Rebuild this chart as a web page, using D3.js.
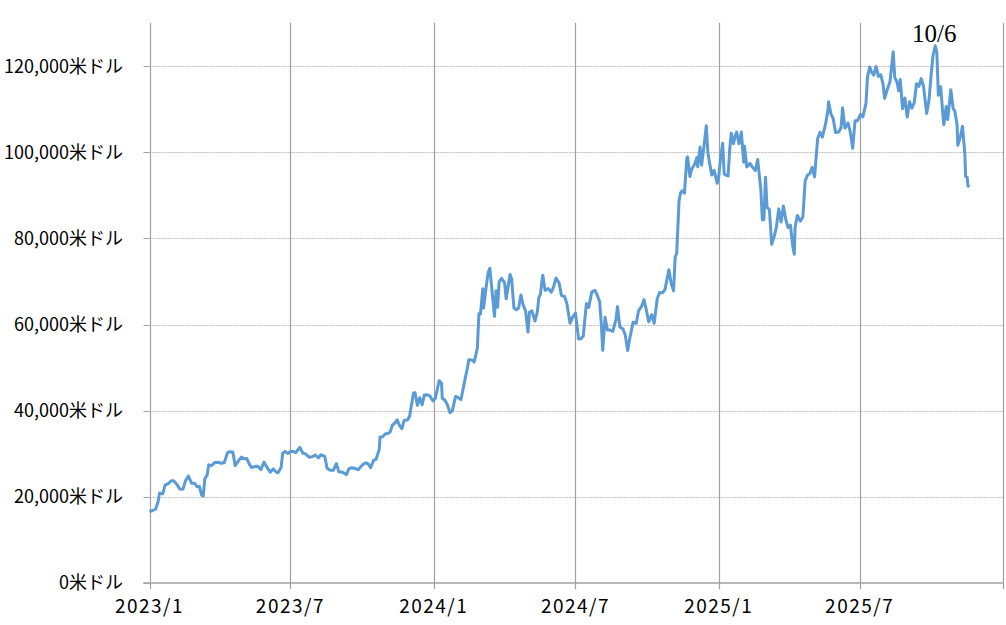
<!DOCTYPE html>
<meta charset="utf-8">
<style>
    body { margin: 0; background: #fff; }
    .ylabel { font: 18px "Noto Sans CJK JP", sans-serif; text-anchor: end; fill: #000; }
    .xlabel { font: 19px "Noto Sans CJK JP", sans-serif; text-anchor: middle; letter-spacing: 1.5px; fill: #000; }
    .note { font: 25px "Liberation Serif", serif; fill: #000; }
</style>
<svg width="1006" height="625"></svg>
<script src="https://d3js.org/d3.v7.min.js"></script>
<script>

    var dates = [
        "2023-01-01","2023-01-05","2023-01-09","2023-01-12","2023-01-14","2023-01-18","2023-01-21","2023-01-25","2023-01-29",
        "2023-02-01","2023-02-05","2023-02-09","2023-02-13","2023-02-16","2023-02-20","2023-02-24","2023-02-28",
        "2023-03-03","2023-03-06","2023-03-09","2023-03-11","2023-03-13","2023-03-16","2023-03-18","2023-03-22","2023-03-26","2023-03-30",
        "2023-04-03","2023-04-07","2023-04-11","2023-04-14","2023-04-18","2023-04-21","2023-04-25","2023-04-29",
        "2023-05-03","2023-05-06","2023-05-09","2023-05-12","2023-05-16","2023-05-20","2023-05-24","2023-05-28",
        "2023-06-01","2023-06-05","2023-06-09","2023-06-12","2023-06-15","2023-06-19","2023-06-21","2023-06-24","2023-06-28",
        "2023-07-01","2023-07-05","2023-07-08","2023-07-13","2023-07-17","2023-07-21","2023-07-25","2023-07-29",
        "2023-08-02","2023-08-06","2023-08-09","2023-08-14","2023-08-17","2023-08-21","2023-08-25","2023-08-29",
        "2023-09-01","2023-09-05","2023-09-11","2023-09-14","2023-09-18","2023-09-22","2023-09-26","2023-09-29",
        "2023-10-02","2023-10-06","2023-10-09","2023-10-12","2023-10-16","2023-10-19","2023-10-23","2023-10-24","2023-10-27","2023-10-31",
        "2023-11-03","2023-11-06","2023-11-09","2023-11-12","2023-11-15","2023-11-18","2023-11-21","2023-11-24","2023-11-28",
        "2023-12-01","2023-12-04","2023-12-06","2023-12-08","2023-12-11","2023-12-14","2023-12-17","2023-12-20","2023-12-23","2023-12-27","2023-12-31",
        "2024-01-03","2024-01-08","2024-01-11","2024-01-12","2024-01-15","2024-01-18","2024-01-22","2024-01-25","2024-01-29",
        "2024-02-01","2024-02-05","2024-02-08","2024-02-10","2024-02-13","2024-02-15","2024-02-19","2024-02-22","2024-02-26","2024-02-28",
        "2024-03-01","2024-03-04","2024-03-05","2024-03-08","2024-03-11","2024-03-13","2024-03-15","2024-03-19","2024-03-21","2024-03-23","2024-03-25","2024-03-28",
        "2024-04-01","2024-04-03","2024-04-08","2024-04-10","2024-04-13","2024-04-16","2024-04-19","2024-04-22","2024-04-25","2024-04-28",
        "2024-05-01","2024-05-03","2024-05-06","2024-05-10","2024-05-13","2024-05-15","2024-05-17","2024-05-20","2024-05-23","2024-05-27","2024-05-31",
        "2024-06-03","2024-06-06","2024-06-10","2024-06-13","2024-06-17","2024-06-20","2024-06-24","2024-06-27",
        "2024-07-01","2024-07-05","2024-07-08","2024-07-11","2024-07-15","2024-07-18","2024-07-22","2024-07-26","2024-07-29",
        "2024-08-01","2024-08-03","2024-08-05","2024-08-08","2024-08-11","2024-08-14","2024-08-18","2024-08-22","2024-08-24","2024-08-27","2024-08-31",
        "2024-09-03","2024-09-06","2024-09-09","2024-09-13","2024-09-17","2024-09-20","2024-09-24","2024-09-27","2024-09-30",
        "2024-10-03","2024-10-07","2024-10-10","2024-10-14","2024-10-17","2024-10-21","2024-10-24","2024-10-29",
        "2024-11-01","2024-11-04","2024-11-06","2024-11-08","2024-11-11","2024-11-13","2024-11-15","2024-11-18","2024-11-21","2024-11-22","2024-11-25","2024-11-27",
        "2024-12-01","2024-12-04","2024-12-05","2024-12-08","2024-12-10","2024-12-13","2024-12-16","2024-12-18","2024-12-20","2024-12-23","2024-12-26","2024-12-30",
        "2025-01-01","2025-01-03","2025-01-06","2025-01-08","2025-01-10","2025-01-13","2025-01-15","2025-01-17","2025-01-20","2025-01-22","2025-01-24","2025-01-27","2025-01-30",
        "2025-02-02","2025-02-03","2025-02-06","2025-02-10","2025-02-13","2025-02-17","2025-02-20","2025-02-24","2025-02-26","2025-02-28",
        "2025-03-02","2025-03-04","2025-03-07","2025-03-10","2025-03-13","2025-03-16","2025-03-19","2025-03-22","2025-03-25","2025-03-28","2025-03-31",
        "2025-04-03","2025-04-06","2025-04-08","2025-04-09","2025-04-12","2025-04-16","2025-04-19","2025-04-22","2025-04-25","2025-04-28",
        "2025-05-01","2025-05-04","2025-05-08","2025-05-11","2025-05-14","2025-05-18","2025-05-21","2025-05-22","2025-05-25","2025-05-28","2025-05-31",
        "2025-06-04","2025-06-07","2025-06-09","2025-06-12","2025-06-16","2025-06-19","2025-06-22","2025-06-25","2025-06-28",
        "2025-07-02","2025-07-05","2025-07-09","2025-07-11","2025-07-14","2025-07-16","2025-07-19","2025-07-22","2025-07-25","2025-07-28","2025-07-31",
        "2025-08-02","2025-08-06","2025-08-09","2025-08-13","2025-08-15","2025-08-18","2025-08-20","2025-08-22","2025-08-25","2025-08-28","2025-08-31",
        "2025-09-03","2025-09-06","2025-09-09","2025-09-12","2025-09-15","2025-09-18","2025-09-21","2025-09-25","2025-09-28",
        "2025-10-01","2025-10-03","2025-10-06","2025-10-08","2025-10-10","2025-10-13","2025-10-16","2025-10-17","2025-10-20","2025-10-22","2025-10-26","2025-10-29","2025-10-31",
        "2025-11-03","2025-11-04","2025-11-07","2025-11-10","2025-11-13","2025-11-14","2025-11-16","2025-11-17","2025-11-19"
    ];

    var prices = [
        16550,16830,17180,18850,20880,20680,22720,23060,23740,
        23730,22940,21800,21790,23650,24830,23180,23150,
        22350,22430,20370,20190,24200,25050,27420,27270,27990,28030,
        27790,27930,30210,30490,30390,27260,28310,29230,
        28840,28900,27640,26800,27030,27120,26330,28060,
        26820,25730,26480,25850,25580,26840,30080,30530,30070,
        30590,30510,30290,31470,30140,29900,29180,29330,
        29700,29060,29770,29410,26660,26190,26160,27710,
        25840,25790,25160,26530,26760,26580,26300,26910,
        27500,27930,27600,26760,28520,28720,30990,33900,33900,34660,
        34730,35050,36700,37060,37880,36580,35810,37720,37820,
        38690,41980,44100,44180,41240,43020,41370,43650,43720,43440,42270,
        42850,46970,46340,42850,42510,41620,39510,40080,43300,
        43080,42580,45300,47130,49700,51810,51780,51300,54520,62500,
        62430,68330,63800,68300,72120,73080,69460,61910,67840,64040,69960,70740,
        69710,65980,71630,70600,63820,63430,63820,66840,64480,63110,
        58250,62890,63160,60790,62930,66270,67050,71450,67930,68370,67500,
        68800,70800,69650,66750,66500,64850,60280,61610,
        62680,56660,56700,57340,64860,63980,67600,67900,66800,
        65350,60700,54020,61700,58710,58740,58430,61170,64160,59420,58970,
        57500,53950,57020,60540,60310,63200,64260,65790,63330,
        60630,62290,60300,66000,67420,67400,68170,72740,
        69480,67810,75640,76500,88700,90580,91060,90510,98700,98920,94340,96000,
        97200,98770,96600,101200,97000,101400,106140,100000,97750,94700,95800,92800,
        94400,98100,102080,95000,94700,94500,100500,104400,102000,103700,104700,102000,104700,
        97700,101400,96600,97400,96600,95750,98300,91400,84300,84350,
        94220,87200,86700,78600,80300,82600,86850,83800,87500,84400,82500,
        83100,78200,76300,82600,85300,84000,85000,93400,94700,95000,
        96500,94300,103200,104600,103500,106400,109600,111700,108900,107800,104600,
        104700,105700,110300,105600,106800,104600,100900,107300,107300,
        108800,108200,111300,117500,119800,118700,117900,119900,117600,118000,115800,
        112500,114900,116500,123300,117400,116200,114300,116900,110100,112600,108200,
        111700,110200,111500,115900,115300,117100,115300,109000,112100,
        118600,122300,124700,123300,113200,115200,108200,106400,110600,107600,114500,110100,109600,
        106500,101600,103400,106000,99700,94400,94200,92200,92000
    ];

    var yTicks = [0, 20000, 40000, 60000, 80000, 100000, 120000];
    var xTicks = ["2023-01-01", "2023-07-01", "2024-01-01", "2024-07-01", "2025-01-01", "2025-07-01", "2026-01-01"];
    var xTickLabels = ["2023/1", "2023/7", "2024/1", "2024/7", "2025/1", "2025/7", ""];
    var noteDate = "2025-10-06",
        noteText = "10/6";

    var parse = d3.timeParse("%Y-%m-%d");

    var svg = d3.select("svg"),
        plotLeft = 149.5, plotRight = 1003, plotTop = 23, plotBottom = 583;

    var x = d3.scaleTime()
        .domain([parse(xTicks[0]), parse(xTicks[xTicks.length - 1])])
        .range([plotLeft, plotRight]);

    var y = d3.scaleLinear()
        .domain([0, 130000])
        .range([plotBottom, plotTop]);

    var data = dates.map(function (d, i) {
        return { date: parse(d), value: prices[i] };
    });

    // horizontal grid (dotted)
    svg.append("g")
        .selectAll("line")
        .data(yTicks.slice(1))
        .enter().append("line")
        .attr("x1", plotLeft).attr("x2", plotRight)
        .attr("y1", function (d) { return Math.round(y(d)) + 0.5; })
        .attr("y2", function (d) { return Math.round(y(d)) + 0.5; })
        .attr("stroke", "#bdbdbd")
        .attr("stroke-dasharray", "2,1");

    // vertical grid + ticks below the axis
    svg.append("g")
        .selectAll("line")
        .data(xTicks)
        .enter().append("line")
        .attr("x1", function (d) { return Math.round(x(parse(d))) + 0.5; })
        .attr("x2", function (d) { return Math.round(x(parse(d))) + 0.5; })
        .attr("y1", plotTop).attr("y2", plotBottom + 6)
        .attr("stroke", "#a0a0a0")
        .attr("stroke-width", 1.2);

    // y tick marks
    svg.append("g")
        .selectAll("line")
        .data(yTicks)
        .enter().append("line")
        .attr("x1", plotLeft - 6).attr("x2", plotLeft)
        .attr("y1", function (d) { return Math.round(y(d)) + 0.5; })
        .attr("y2", function (d) { return Math.round(y(d)) + 0.5; })
        .attr("stroke", "#a0a0a0");

    // bottom axis line
    svg.append("line")
        .attr("x1", plotLeft - 6).attr("x2", plotRight)
        .attr("y1", plotBottom).attr("y2", plotBottom)
        .attr("stroke", "#a0a0a0")
        .attr("stroke-width", 1.5);

    svg.append("g")
        .selectAll("text")
        .data(yTicks)
        .enter().append("text")
        .attr("class", "ylabel")
        .attr("x", 123)
        .attr("y", function (d) { return y(d); })
        .attr("dy", "0.36em")
        .text(function (d) { return d3.format(",")(d) + "米ドル"; });

    svg.append("g")
        .selectAll("text")
        .data(xTicks)
        .enter().append("text")
        .attr("class", "xlabel")
        .attr("x", function (d) { return x(parse(d)); })
        .attr("y", 613)
        .text(function (d, i) { return xTickLabels[i]; });

    var line = d3.line()
        .x(function (d) { return x(d.date); })
        .y(function (d) { return y(d.value); });

    svg.append("path")
        .datum(data)
        .attr("fill", "none")
        .attr("stroke", "#5b9bd5")
        .attr("stroke-width", 3)
        .attr("stroke-linejoin", "round")
        .attr("d", line);

    svg.append("text")
        .attr("class", "note")
        .attr("x", x(parse(noteDate)) - 1)
        .attr("y", 42)
        .attr("text-anchor", "middle")
        .text(noteText);

</script>
